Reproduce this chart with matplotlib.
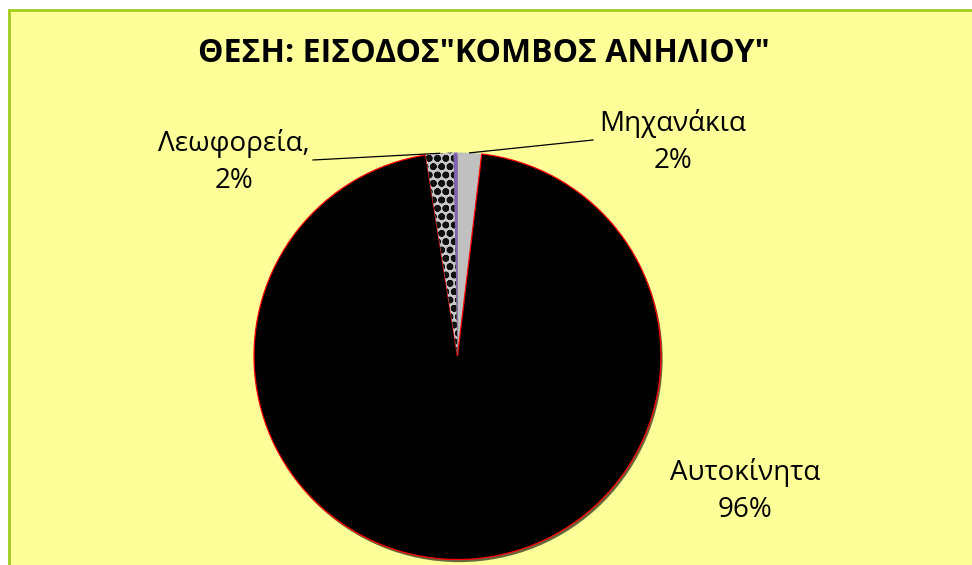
import matplotlib
matplotlib.use("Agg")
import matplotlib.pyplot as plt
from matplotlib.patches import Rectangle, Circle
import numpy as np

# Data: share of traffic by vehicle type, clockwise from 12 o'clock
categories = ["Μηχανάκια", "Αυτοκίνητα", "Λεωφορεία", "Φορτηγά"]
values = [1.9, 95.6, 2.2, 0.3]
title = 'ΘΕΣΗ: ΕΙΣΟΔΟΣ"ΚΟΜΒΟΣ ΑΝΗΛΙΟΥ"'

W, H = 972, 565
plt.rcParams["font.family"] = ["Open Sans", "DejaVu Sans"]
plt.rcParams["hatch.linewidth"] = 2.4

fig = plt.figure(figsize=(W / 100, H / 100), dpi=100)
fig.patch.set_facecolor("white")

# Chart area background with green frame
fig.patches.append(Rectangle((9 / W, -0.05), 1.2, (H - 10) / H + 0.05,
                             transform=fig.transFigure, facecolor="#FFFF99",
                             edgecolor="#9FCC1A", linewidth=2.0, zorder=-5))

# Pie placement (pixels)
cx, cy, r = 457.5, H - 356, 203.5
ax = fig.add_axes([(cx - r) / W, (cy - r) / H, 2 * r / W, 2 * r / H])
ax.set_zorder(2)

colors = ["#C0C0C0", "#000000", "#C8C8C8", "#7F62B4"]
wedges, _ = ax.pie(values, colors=colors, startangle=90, counterclock=False,
                   radius=1.0, wedgeprops=dict(linewidth=0))
ax.set_xlim(-1, 1)
ax.set_ylim(-1, 1)
ax.set_aspect("equal")
ax.axis("off")

# soft drop shadow under the pie
ax.add_patch(Circle((0.008, -0.013), 1.0, facecolor="#66663f", edgecolor="none",
                    zorder=0.5, clip_on=False))

for w in wedges:
    w.set_zorder(1)
    w.set_clip_on(False)
wedges[1].set_edgecolor("#FF0000")
wedges[1].set_linewidth(0.9)
wedges[2].set_hatch("oo")
wedges[2].set_edgecolor("#111111")
wedges[2].set_linewidth(0)

total = sum(values)
pcts = [v / total * 100 for v in values]

def mid_point(i):
    start = 90 - sum(values[:i]) / total * 360
    ang = np.deg2rad(start - values[i] / total * 360 / 2)
    return np.cos(ang), np.sin(ang)

def to_data(px, py):
    return (px - cx) / r, ((H - py) - cy) / r

label_fs = 20
# Μηχανάκια
x0, y0 = mid_point(0)
x1, y1 = to_data(593, 140)
ax.plot([x0, x1], [y0, y1], color="black", lw=0.9, zorder=3, clip_on=False)
lx, ly = to_data(673, 142)
ax.text(lx, ly, f"{categories[0]}\n{pcts[0]:.0f}%", ha="center", va="center",
        fontsize=label_fs, linespacing=1.45, clip_on=False)

# Λεωφορεία
x0, y0 = mid_point(2)
x1, y1 = to_data(313, 160)
ax.plot([x0, x1], [y0, y1], color="black", lw=0.9, zorder=3, clip_on=False)
lx, ly = to_data(234, 162)
ax.text(lx, ly, f"{categories[2]},\n{pcts[2]:.0f}%", ha="center", va="center",
        fontsize=label_fs, linespacing=1.45, clip_on=False)

# Αυτοκίνητα
lx, ly = to_data(745, 491)
ax.text(lx, ly, f"{categories[1]}\n{pcts[1]:.0f}%", ha="center", va="center",
        fontsize=label_fs, linespacing=1.45, clip_on=False)

fig.text(484 / W, 1 - 53 / H, title, ha="center", va="center",
         fontsize=23, fontweight="bold", zorder=3)

fig.savefig("out.png", dpi=100)
